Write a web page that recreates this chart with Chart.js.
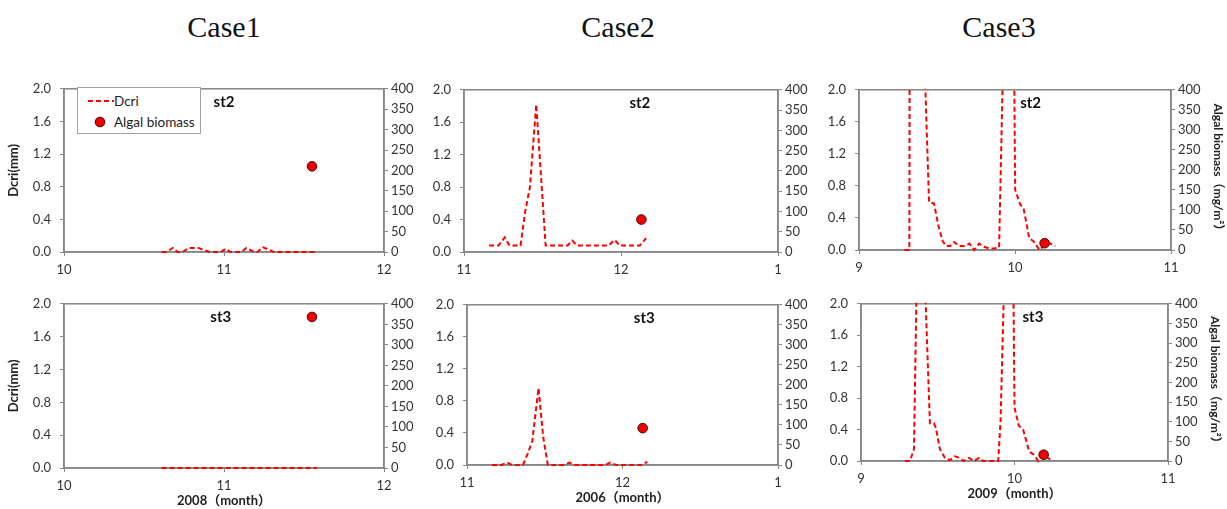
<!DOCTYPE html>
<html lang="en">
<head>
  <meta charset="UTF-8" />
  <title>Dcri and algal biomass - Case1/2/3</title>
  <script src="https://cdn.jsdelivr.net/npm/chart.js"></script>
  <style>
    body { margin: 0; background: #ffffff; }
    #page { position: relative; width: 1227px; height: 509px; overflow: hidden; }
    .case {
      position: absolute; top: 10px; transform: translateX(-50%);
      font: 30px "Liberation Serif", "Times New Roman", serif; color: #111;
    }
    .panel { position: absolute; }
    .legend {
      position: absolute; left: 77px; top: 87px; width: 122px; height: 45px;
      border: 1px solid #a0a0a0; background: #fff;
      font: 13.5px Lato, "Open Sans", sans-serif; color: #222;
    }
    .legend .row { position: absolute; left: 0; height: 16px; line-height: 16px; }
  </style>
</head>
<body>
<div id="page">
  <div class="case" style="left:224px">Case1</div>
  <div class="case" style="left:618px">Case2</div>
  <div class="case" style="left:999px">Case3</div>
</div>

<script>
  // ---- data (x = month, with day fraction) ----
  // Case1, 2008
  const case1Days    = [10.61, 10.64, 10.68, 10.71, 10.74, 10.78, 10.81, 10.84, 10.88, 10.91,
                        10.94, 10.98, 11.01, 11.04, 11.08, 11.11, 11.14, 11.18, 11.21, 11.24,
                        11.28, 11.31, 11.34, 11.38, 11.41, 11.44, 11.48, 11.51, 11.54, 11.58];
  const case1St2Dcri = [0, 0, 0.05, 0, 0, 0.05, 0.05, 0.05, 0.02, 0,
                        0, 0, 0.04, 0, 0, 0, 0.05, 0.01, 0, 0.06,
                        0.03, 0, 0, 0, 0, 0, 0, 0, 0, 0];
  const case1St3Dcri = [0, 0, 0, 0, 0, 0, 0, 0, 0, 0,
                        0, 0, 0, 0, 0, 0, 0, 0, 0, 0,
                        0, 0, 0, 0, 0, 0, 0, 0, 0, 0];
  const case1SampleDay = [11.55];
  const case1St2Biomass = [210];
  const case1St3Biomass = [368];

  // Case2, 2006 (13 = January of next year)
  const case2Days    = [11.16, 11.19, 11.22, 11.26, 11.29, 11.32, 11.36, 11.39, 11.42, 11.46,
                        11.49, 11.52, 11.56, 11.59, 11.62, 11.66, 11.69, 11.72, 11.76, 11.79,
                        11.82, 11.86, 11.89, 11.92, 11.96, 11.99, 12.02, 12.06, 12.09, 12.12, 12.16];
  const case2St2Dcri = [0.08, 0.08, 0.08, 0.18, 0.08, 0.08, 0.08, 0.5, 0.8, 1.82,
                        0.95, 0.08, 0.08, 0.08, 0.08, 0.08, 0.14, 0.08, 0.08, 0.08,
                        0.08, 0.08, 0.08, 0.08, 0.15, 0.08, 0.08, 0.08, 0.08, 0.08, 0.17];
  const case2St3Dcri = [0, 0, 0, 0.03, 0, 0, 0, 0.14, 0.3, 0.96,
                        0.35, 0, 0, 0, 0, 0.03, 0, 0, 0, 0,
                        0, 0, 0, 0.03, 0, 0, 0, 0, 0, 0, 0.04];
  const case2SampleDay = [12.13];
  const case2St2Biomass = [80];
  const case2St3Biomass = [92];

  // Case3, 2009
  const case3St2Days = [9.291, 9.323, 9.329, 9.37, 9.419, 9.449, 9.481, 9.509, 9.535, 9.556,
                        9.584, 9.61, 9.642, 9.674, 9.708, 9.738, 9.77, 9.802, 9.834, 9.866,
                        9.898, 9.922, 9.958, 9.995, 10.001, 10.033, 10.055, 10.091, 10.123, 10.157,
                        10.194, 10.226, 10.258];
  const case3St2Dcri = [0, 0, 10, 10, 2.4, 0.6, 0.58, 0.3, 0.12, 0.05,
                        0.05, 0.1, 0.05, 0.05, 0.08, 0, 0.08, 0.04, 0.02, 0.02,
                        0.03, 2.2, 10, 2.2, 0.75, 0.57, 0.52, 0.15, 0.1, 0,
                        0.07, 0.08, 0.05];
  const case3St3Days = [9.286, 9.319, 9.345, 9.362, 9.39, 9.416, 9.449, 9.475, 9.488, 9.514,
                        9.547, 9.579, 9.612, 9.644, 9.67, 9.705, 9.735, 9.77, 9.796, 9.861,
                        9.894, 9.909, 9.933, 9.965, 9.993, 10.0, 10.028, 10.056, 10.078, 10.095,
                        10.126, 10.154, 10.187, 10.234];
  const case3St3Dcri = [0, 0, 0.15, 2.2, 10, 2.3, 0.48, 0.48, 0.42, 0.15,
                        0.04, 0.01, 0.06, 0.04, 0, 0.04, 0, 0.04, 0, 0,
                        0, 0.5, 2.3, 10, 2.2, 0.68, 0.45, 0.4, 0.25, 0.12,
                        0.08, 0, 0.07, 0.02];
  const case3SampleDay = [10.19];
  const case3St2Biomass = [17];
  const case3St3Biomass = [16];

  // ---- panel layout: plot box [left, top, right, bottom] in page pixels ----
  const panels = [
    { box: [64, 82, 384, 252],  xMin: 10, xMax: 12, days: case1Days, dcri: case1St2Dcri,
      sampleDay: case1SampleDay, biomass: case1St2Biomass, station: 'st2', stationAt: 0.5,
      leftTitle: true, rightTitle: false, xTitle: '' },
    { box: [464, 83, 778, 252], xMin: 11, xMax: 13, days: case2Days, dcri: case2St2Dcri,
      sampleDay: case2SampleDay, biomass: case2St2Biomass, station: 'st2', stationAt: 0.56,
      leftTitle: false, rightTitle: false, xTitle: '' },
    { box: [859, 83, 1171, 250], xMin: 9, xMax: 11, days: case3St2Days, dcri: case3St2Dcri,
      sampleDay: case3SampleDay, biomass: case3St2Biomass, station: 'st2', stationAt: 0.55,
      leftTitle: false, rightTitle: true, xTitle: '' },
    { box: [64, 297, 384, 468], xMin: 10, xMax: 12, days: case1Days, dcri: case1St3Dcri,
      sampleDay: case1SampleDay, biomass: case1St3Biomass, station: 'st3', stationAt: 0.49,
      leftTitle: true, rightTitle: false, xTitle: '2008（month）' },
    { box: [467, 298, 778, 465], xMin: 11, xMax: 13, days: case2Days, dcri: case2St3Dcri,
      sampleDay: case2SampleDay, biomass: case2St3Biomass, station: 'st3', stationAt: 0.57,
      leftTitle: false, rightTitle: false, xTitle: '2006（month）' },
    { box: [861, 297, 1168, 461], xMin: 9, xMax: 11, days: case3St3Days, dcri: case3St3Dcri,
      sampleDay: case3SampleDay, biomass: case3St3Biomass, station: 'st3', stationAt: 0.56,
      leftTitle: false, rightTitle: true, xTitle: '2009（month）' }
  ];

  const axisGrey = '#868686';
  const tickFont = { family: 'Lato, "Open Sans", sans-serif', size: 13 };
  const titleFont = { family: 'Lato, "Noto Sans CJK JP", sans-serif', size: 13, weight: 'bold' };
  const rightTitleFont = { family: 'Lato, "Noto Sans CJK JP", sans-serif', size: 12, weight: 'bold' };

  function pairs(xs, ys) {
    return xs.map((x, i) => ({ x: x, y: ys[i] }));
  }

  // frame round the plot (under the lines) + the station label (on top)
  const framePlugin = {
    id: 'frame',
    beforeDatasetsDraw(chart) {
      const a = chart.chartArea, ctx = chart.ctx;
      ctx.save();
      ctx.strokeStyle = axisGrey;
      ctx.lineWidth = 1.5;
      ctx.strokeRect(a.left, a.top, a.right - a.left, a.bottom - a.top);
      ctx.restore();
    },
    afterDraw(chart, args, opts) {
      const a = chart.chartArea, ctx = chart.ctx;
      ctx.save();
      ctx.fillStyle = '#111';
      ctx.font = 'bold 15px Lato, "Open Sans", sans-serif';
      ctx.textAlign = 'center';
      ctx.textBaseline = 'middle';
      ctx.fillText(opts.text, a.left + opts.at * (a.right - a.left), a.top + 13);
      ctx.restore();
    }
  };

  const page = document.getElementById('page');

  panels.forEach(p => {
    const [L, T, R, B] = p.box;
    const leftW = p.leftTitle ? 60 : 42;
    const rightW = p.rightTitle ? 56 : 40;
    const padTop = 10;
    const bottomH = p.xTitle ? 42 : 30;

    const div = document.createElement('div');
    div.className = 'panel';
    div.style.left = (L - leftW) + 'px';
    div.style.top = (T - padTop) + 'px';
    const canvas = document.createElement('canvas');
    canvas.width = R - L + leftW + rightW;
    canvas.height = B - T + padTop + bottomH;
    div.appendChild(canvas);
    page.appendChild(div);

    new Chart(canvas, {
      type: 'line',
      data: {
        datasets: [
          {
            label: 'Algal biomass',
            data: pairs(p.sampleDay, p.biomass),
            yAxisID: 'y1',
            showLine: false,
            pointRadius: 4.8,
            pointBackgroundColor: '#f00000',
            pointBorderColor: '#4a0000',
            pointBorderWidth: 1
          },
          {
            label: 'Dcri',
            data: pairs(p.days, p.dcri),
            yAxisID: 'y',
            borderColor: '#ff0000',
            borderWidth: 2,
            borderDash: [5, 3],
            pointRadius: 0,
            tension: 0,
            clip: { left: 2, right: 2, top: 1, bottom: 4 }
          }
        ]
      },
      options: {
        responsive: false,
        animation: false,
        devicePixelRatio: 1,
        layout: { padding: { top: padTop, left: 0, right: 0, bottom: 0 } },
        plugins: {
          legend: { display: false },
          tooltip: { enabled: false },
          frame: { text: p.station, at: p.stationAt }
        },
        scales: {
          x: {
            type: 'linear',
            min: p.xMin, max: p.xMax,
            ticks: {
              stepSize: 1, padding: 6, color: '#333', font: tickFont,
              callback: v => (v > 12 ? v - 12 : v)
            },
            grid: { drawOnChartArea: false, tickLength: 4, color: axisGrey },
            border: { color: axisGrey, width: 1.5 },
            title: { display: !!p.xTitle, text: p.xTitle, color: '#222', font: titleFont, padding: { top: 0, bottom: 1 } },
            afterFit: s => { s.height = bottomH; }
          },
          y: {
            position: 'left',
            min: 0, max: 2,
            ticks: { stepSize: 0.4, padding: 9, color: '#333', font: tickFont, callback: v => v.toFixed(1) },
            grid: { drawOnChartArea: false, tickLength: 4, color: axisGrey },
            border: { color: axisGrey, width: 1.5 },
            title: { display: p.leftTitle, text: 'Dcri(mm)', color: '#222', font: titleFont, padding: 2 },
            afterFit: s => { s.width = leftW; }
          },
          y1: {
            position: 'right',
            min: 0, max: 400,
            ticks: { stepSize: 50, padding: 3, color: '#333', font: tickFont },
            grid: { drawOnChartArea: false, tickLength: 4, color: axisGrey },
            border: { color: axisGrey, width: 1.5 },
            title: { display: p.rightTitle, text: 'Algal biomass（mg/m²）', color: '#222', font: rightTitleFont, padding: 2 },
            afterFit: s => { s.width = rightW; }
          }
        }
      },
      plugins: [framePlugin]
    });
  });

  // legend box inside the first panel
  const legend = document.createElement('div');
  legend.className = 'legend';
  legend.innerHTML =
    '<div class="row" style="top:5px"><svg width="36" height="16" style="vertical-align:top">' +
    '<line x1="10" y1="8" x2="36" y2="8" stroke="#ff0000" stroke-width="2" stroke-dasharray="5,3"/></svg>Dcri</div>' +
    '<div class="row" style="top:26px"><svg width="36" height="16" style="vertical-align:top">' +
    '<circle cx="22" cy="8" r="4.8" fill="#f00000" stroke="#4a0000" stroke-width="1"/></svg>Algal biomass</div>';
  page.appendChild(legend);
</script>
</body>
</html>
